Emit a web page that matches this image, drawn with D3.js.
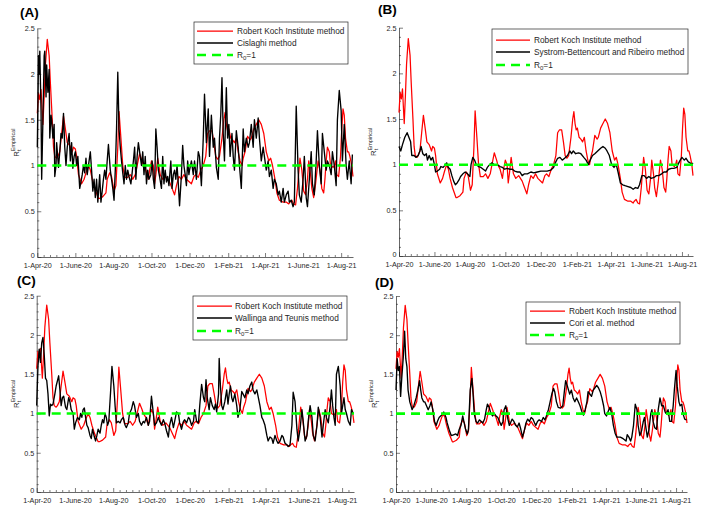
<!DOCTYPE html>
<html><head><meta charset="utf-8">
<script src="https://cdn.jsdelivr.net/npm/d3@7"></script>
<style>body{margin:0;background:#fff}svg{display:block;font-family:Arial,"Liberation Sans",sans-serif}</style>
</head><body>
<svg id="chart" width="707" height="514"></svg>
<script>
// ---------- DATA (day offset from 1-Apr-2020, value) ----------
const tickDays = [0,61,122,183,244,306,365,426,487];
const tickLabels = ["1-Apr-20","1-June-20","1-Aug-20","1-Oct-20","1-Dec-20","1-Feb-21","1-Apr-21","1-June-21","1-Aug-21"];
const yTicks = [0,0.5,1,1.5,2,2.5];
const yTickLabels = ["0","0.5","1","1.5","2","2.5"];
const r0Value = 1;

const rki = [[0,1.57],[2,1.79],[4,1.72],[6,1.83],[7,1.7],[9,1.45],[11,1.75],[13,2.1],[16,2.38],[19,2.2],[21,1.9],[24,1.5],[26,1.2],[28,1.1],[31,1.08],[33,1.1],[36,1.15],[39,1.35],[42,1.54],[45,1.4],[48,1.25],[52,1.22],[56,1.15],[58,1.2],[61,1.18],[63,1.1],[66,0.9],[71,0.8],[75,0.85],[78,0.92],[82,1.0],[85,0.95],[88,0.85],[92,0.75],[98,0.64],[100,0.64],[105,0.66],[110,0.7],[112,0.85],[116,0.92],[119,0.88],[123,0.72],[126,0.78],[129,1.2],[131,1.59],[134,1.3],[137,1.0],[140,0.87],[145,0.87],[149,0.9],[153,0.85],[157,0.9],[160,1.0],[164,1.13],[168,1.05],[170,1.0],[174,0.95],[178,0.85],[180,0.95],[183,1.05],[186,1.0],[188,0.8],[190,0.9],[193,1.08],[197,0.9],[201,0.85],[206,0.88],[212,0.82],[216,0.75],[220,0.68],[223,0.78],[227,0.88],[231,0.85],[235,0.9],[239,0.85],[247,0.8],[251,0.88],[254,0.9],[258,0.87],[262,0.95],[266,1.0],[270,1.1],[273,1.35],[276,1.38],[280,1.38],[283,1.25],[286,1.1],[289,1.07],[292,1.1],[296,1.3],[299,1.5],[301,1.58],[303,1.45],[305,1.38],[307,1.4],[310,1.3],[313,1.28],[316,1.25],[319,1.3],[322,1.15],[325,1.05],[328,1.0],[330,1.08],[333,1.15],[337,1.32],[341,1.28],[343,1.3],[347,1.4],[351,1.45],[355,1.5],[359,1.45],[363,1.35],[367,1.15],[371,1.05],[374,1.08],[377,1.0],[381,0.85],[384,0.7],[388,0.62],[394,0.6],[399,0.6],[403,0.58],[405,0.6],[408,0.62],[411,0.58],[414,0.57],[417,0.75],[421,1.08],[424,0.95],[427,0.72],[430,0.68],[433,0.85],[435,1.05],[438,0.9],[440,0.75],[443,0.65],[446,0.8],[450,1.05],[453,0.95],[456,0.75],[459,0.7],[461,0.85],[463,1.05],[465,1.2],[468,1.15],[470,1.0],[474,0.98],[476,1.0],[478,1.05],[480,0.9],[483,0.88],[486,1.1],[488,1.4],[490,1.62],[492,1.55],[494,1.3],[497,1.15],[499,1.15],[501,1.1],[504,1.0],[506,0.88]];

const cislaghi = [[0,1.2],[2,2.2],[3,2.0],[4,2.25],[6,1.6],[7,0.85],[9,1.5],[11,2.2],[12,2.25],[14,1.75],[15,2.1],[17,1.8],[19,2.05],[20,1.3],[22,1.55],[23,1.5],[25,1.3],[27,1.45],[28,0.88],[30,1.0],[31,1.25],[34,0.98],[36,1.15],[38,1.35],[40,1.3],[42,1.57],[44,1.2],[46,1.0],[48,1.2],[51,1.35],[53,1.05],[55,1.25],[57,0.97],[59,1.1],[61,1.15],[63,1.0],[65,1.1],[68,0.75],[70,0.82],[72,0.9],[74,1.0],[76,0.92],[78,1.08],[80,0.9],[83,1.05],[85,1.15],[87,0.95],[89,0.72],[91,0.85],[93,0.65],[95,0.85],[97,0.6],[100,0.9],[102,0.6],[104,0.72],[106,0.85],[108,0.95],[110,0.85],[112,1.05],[114,1.23],[117,0.95],[119,0.85],[121,0.75],[123,0.62],[125,0.95],[127,1.4],[129,2.02],[131,1.4],[133,1.2],[135,1.05],[137,0.92],[139,0.8],[141,1.0],[143,0.85],[145,0.95],[147,0.88],[150,0.8],[152,0.92],[154,1.05],[156,1.2],[158,0.85],[160,1.1],[162,1.25],[165,1.1],[167,1.0],[169,1.15],[171,0.9],[173,1.1],[175,0.8],[177,0.95],[179,0.85],[182,0.9],[184,1.05],[186,0.85],[188,0.75],[190,1.4],[192,1.2],[194,0.95],[196,0.88],[199,0.75],[201,1.1],[203,0.8],[205,0.95],[207,0.82],[209,0.88],[211,0.78],[214,1.05],[216,0.75],[218,0.9],[220,0.95],[222,0.85],[224,1.0],[226,0.8],[228,0.56],[231,0.9],[233,1.22],[235,1.0],[237,0.9],[239,0.78],[241,1.05],[243,0.9],[244,0.95],[247,1.05],[250,0.9],[252,1.05],[255,0.85],[258,1.15],[260,1.1],[263,0.78],[266,1.3],[268,1.78],[271,1.25],[274,1.62],[276,1.1],[279,1.55],[282,1.2],[284,1.3],[287,0.98],[290,0.85],[292,1.3],[294,1.55],[296,1.96],[298,1.35],[300,1.05],[303,1.85],[305,1.3],[307,1.45],[309,1.1],[312,1.35],[314,1.1],[316,0.95],[319,1.38],[322,1.2],[324,1.0],[327,0.75],[330,1.4],[332,1.15],[335,1.3],[338,1.2],[340,1.25],[343,1.45],[346,1.2],[348,1.5],[351,1.3],[354,1.52],[356,1.3],[359,1.05],[362,1.2],[364,1.1],[367,0.95],[370,1.05],[372,0.88],[375,0.95],[378,0.75],[380,0.85],[383,0.8],[386,0.68],[388,0.72],[391,0.6],[394,0.75],[396,0.6],[399,0.68],[402,0.72],[404,0.6],[407,0.62],[410,0.55],[412,0.6],[415,1.65],[418,0.95],[420,0.68],[423,0.6],[426,0.85],[428,1.1],[431,0.65],[433,0.55],[436,0.85],[439,1.15],[441,0.8],[444,0.68],[447,1.05],[449,1.38],[452,1.0],[455,0.8],[457,1.35],[460,1.15],[463,0.95],[465,1.05],[468,1.0],[471,0.9],[473,1.15],[476,1.0],[479,0.78],[481,1.5],[484,1.82],[487,1.6],[489,1.05],[492,1.45],[495,1.0],[497,0.85],[500,1.05],[503,0.8],[505,1.12]];

const systromBettencourt = [[0,1.2],[3,1.15],[6,1.22],[10,1.3],[14,1.35],[17,1.3],[20,1.25],[22,1.1],[26,1.1],[29,1.08],[33,1.1],[36,1.15],[38,1.2],[41,1.12],[44,1.1],[47,1.12],[49,1.05],[52,1.1],[55,1.05],[58,1.08],[61,1.0],[63,0.92],[66,0.93],[70,0.95],[72,0.98],[76,0.97],[80,1.0],[82,1.02],[85,0.97],[88,0.95],[91,0.88],[94,0.82],[97,0.78],[100,0.8],[103,0.83],[106,0.87],[110,0.9],[114,0.92],[118,0.9],[122,0.87],[124,1.0],[127,1.08],[130,1.05],[133,1.0],[137,0.98],[141,0.97],[145,0.95],[149,0.93],[152,0.97],[156,1.0],[160,1.02],[164,1.0],[169,1.0],[174,0.98],[178,0.97],[182,0.95],[186,0.96],[191,0.95],[195,0.95],[199,0.93],[204,0.92],[208,0.92],[212,0.88],[216,0.9],[221,0.9],[227,0.92],[232,0.91],[238,0.92],[244,0.93],[250,0.93],[255,0.93],[261,0.94],[266,0.97],[269,1.02],[273,1.07],[277,1.08],[281,1.05],[285,1.07],[290,1.1],[294,1.15],[297,1.12],[300,1.15],[304,1.12],[309,1.13],[313,1.12],[318,1.08],[322,1.05],[326,1.0],[329,1.05],[333,1.1],[337,1.12],[342,1.15],[347,1.18],[351,1.2],[355,1.18],[358,1.15],[362,1.1],[366,1.0],[370,0.97],[374,1.0],[377,0.92],[381,0.8],[385,0.78],[389,0.77],[394,0.76],[399,0.75],[403,0.73],[407,0.75],[411,0.74],[414,0.78],[418,0.88],[422,0.88],[426,0.85],[430,0.87],[434,0.85],[439,0.86],[443,0.88],[447,0.88],[452,0.9],[456,0.92],[460,0.92],[464,0.95],[469,0.96],[473,0.96],[478,0.97],[480,1.0],[484,1.05],[487,1.08],[491,1.05],[494,1.07],[498,1.03],[501,1.02],[503,1.0],[506,1.02]];

const wallingaTeunis = [[0,1.1],[2,1.6],[4,1.82],[6,1.65],[8,1.9],[10,1.97],[12,1.75],[14,1.45],[16,1.42],[18,1.25],[20,0.97],[22,1.12],[24,1.1],[26,1.12],[29,1.25],[31,1.35],[35,1.48],[37,1.3],[39,1.1],[41,1.2],[43,1.22],[46,1.08],[48,1.05],[51,1.2],[53,1.15],[55,1.05],[58,1.0],[60,0.8],[62,0.88],[65,0.95],[68,0.92],[70,1.0],[72,0.95],[74,1.05],[76,1.07],[78,0.95],[80,0.85],[82,0.82],[85,0.72],[87,0.68],[89,0.8],[92,0.7],[94,0.65],[96,0.72],[98,0.8],[101,0.75],[103,0.85],[105,0.92],[107,0.88],[109,1.0],[111,0.95],[113,0.85],[115,0.9],[118,1.3],[120,1.6],[123,1.35],[125,1.1],[127,0.88],[130,0.9],[133,0.88],[135,0.92],[138,0.95],[141,0.85],[143,0.82],[146,0.88],[148,1.0],[151,1.05],[154,1.15],[156,1.1],[159,0.95],[162,1.0],[164,0.9],[167,0.85],[170,0.9],[172,0.88],[175,0.95],[178,0.85],[180,0.9],[183,1.22],[186,1.0],[188,0.85],[191,0.88],[194,0.95],[196,0.9],[199,0.85],[202,0.92],[204,0.88],[207,0.78],[210,0.7],[212,0.85],[215,0.95],[218,0.82],[220,0.9],[223,1.02],[226,1.0],[228,0.88],[231,0.8],[234,0.9],[236,0.92],[239,0.88],[242,0.95],[244,0.93],[247,0.85],[250,0.9],[252,1.05],[255,0.9],[258,0.88],[260,1.1],[263,1.37],[266,1.2],[268,1.15],[270,1.43],[272,1.2],[275,1.05],[277,1.2],[280,1.1],[283,1.05],[285,1.12],[287,1.02],[290,1.25],[291,1.7],[293,1.35],[295,1.1],[297,1.05],[300,1.15],[303,1.3],[305,1.12],[307,1.25],[309,1.35],[311,1.2],[313,1.15],[316,1.25],[319,1.1],[321,0.95],[324,1.05],[327,1.28],[329,1.25],[332,1.2],[335,1.3],[337,1.25],[340,1.35],[343,1.4],[345,1.3],[348,1.25],[351,1.3],[353,1.22],[356,1.1],[359,0.95],[361,0.92],[364,0.85],[367,0.72],[369,0.65],[372,0.7],[375,0.68],[377,0.62],[380,0.72],[383,0.65],[385,0.62],[388,0.65],[391,0.72],[393,0.7],[396,0.62],[399,0.6],[401,0.58],[404,0.6],[407,0.85],[409,1.27],[412,1.15],[415,0.8],[417,0.65],[420,0.8],[423,1.05],[425,0.9],[428,0.65],[431,0.72],[433,0.9],[436,1.1],[439,0.95],[441,0.72],[444,0.65],[447,0.85],[449,1.08],[452,0.95],[455,0.7],[457,0.85],[460,1.05],[462,0.95],[465,0.88],[468,1.1],[470,1.3],[472,1.1],[474,0.95],[476,0.85],[478,1.5],[481,1.6],[484,1.35],[486,1.0],[488,1.1],[490,1.2],[492,1.05],[494,1.0],[497,0.9],[500,0.85],[502,1.05],[505,1.0]];

const cori = [[0,1.3],[2,1.7],[4,1.55],[6,1.6],[8,1.22],[10,1.45],[13,1.75],[15,2.05],[17,1.7],[19,1.6],[21,1.3],[24,1.15],[28,1.05],[31,1.1],[35,1.2],[38,1.3],[41,1.42],[43,1.3],[45,1.2],[48,1.15],[50,1.15],[53,1.1],[56,1.05],[59,1.1],[61,1.15],[64,1.05],[67,0.9],[70,0.85],[72,0.9],[75,0.95],[79,0.98],[83,1.02],[87,0.95],[89,0.88],[93,0.78],[96,0.72],[100,0.73],[104,0.74],[107,0.72],[110,0.8],[113,0.85],[116,0.97],[118,0.9],[121,0.8],[124,0.74],[126,0.8],[129,1.3],[132,1.45],[134,1.25],[136,1.0],[139,0.9],[142,0.88],[145,0.92],[148,0.9],[151,0.88],[154,0.93],[157,1.05],[159,1.12],[162,1.08],[165,1.0],[168,0.97],[171,1.0],[174,0.97],[177,0.95],[180,0.9],[183,0.85],[186,0.9],[188,1.05],[191,1.1],[194,0.95],[197,0.85],[199,0.88],[202,0.93],[205,0.9],[208,0.85],[211,0.83],[214,0.88],[217,0.8],[220,0.7],[223,0.78],[226,0.88],[229,0.93],[232,0.9],[235,0.95],[238,0.93],[241,0.88],[243,0.85],[246,0.9],[249,0.92],[253,0.9],[256,0.95],[259,0.92],[262,0.98],[265,1.05],[268,1.15],[271,1.25],[274,1.32],[276,1.28],[279,1.15],[282,1.08],[286,1.07],[290,1.1],[293,1.3],[295,1.42],[298,1.35],[300,1.3],[302,1.25],[305,1.3],[308,1.2],[311,1.15],[314,1.2],[317,1.15],[320,1.1],[323,1.03],[326,0.98],[329,1.05],[332,1.15],[334,1.28],[337,1.25],[340,1.22],[343,1.3],[346,1.33],[349,1.36],[352,1.33],[355,1.28],[358,1.2],[361,1.1],[363,1.0],[366,0.97],[369,1.03],[372,1.08],[375,1.0],[378,0.85],[381,0.75],[384,0.7],[390,0.7],[395,0.68],[400,0.65],[402,0.73],[405,0.7],[408,0.65],[410,0.7],[413,0.85],[416,1.12],[419,1.05],[421,0.85],[424,0.72],[427,0.78],[430,0.9],[432,0.95],[435,0.8],[437,0.7],[440,0.8],[443,1.0],[445,1.05],[447,0.9],[450,0.82],[453,0.8],[456,1.05],[459,1.2],[462,1.1],[465,1.1],[468,1.02],[470,1.0],[473,1.05],[476,0.9],[479,0.9],[482,1.1],[484,1.3],[487,1.55],[489,1.35],[492,1.15],[494,1.1],[497,1.12],[499,1.0],[502,0.93],[505,0.92]];

const rkiName = "Robert Koch Institute method";
const panelTitles = ["(A)","(B)","(C)","(D)"];
const methodNames = ["Cislaghi method","Systrom-Bettencourt and Ribeiro method","Wallinga and Teunis method","Cori et al. method"];
const methodSeries = [cislaghi, systromBettencourt, wallingaTeunis, cori];
const xDomain = [0, 506];
const yDomain = [0, 2.5];

// ---------- LAYOUT ----------
const layout = [
  {x0:37.3, x1:353, yb:257, yt:28.3, tx:20, ty:17, ylx:18.5, lg:{x:194,y:22,w:154,h:42,rows:[31,43,55],s0:197,s1:233,t:237}},
  {x0:399, x1:693, yb:256, yt:27.7, tx:378, ty:13.5, ylx:375.5, lg:{x:492,y:29,w:196,h:45,rows:[40,52,65],s0:496,s1:530,t:534}},
  {x0:36.7, x1:354, yb:492, yt:295.7, tx:17, ty:284.5, ylx:18.5, lg:{x:193,y:296,w:154,h:44,rows:[306,318,331],s0:197,s1:232,t:235}},
  {x0:396, x1:687, yb:492, yt:296, tx:375, ty:286.5, ylx:376.5, lg:{x:526,y:302,w:154,h:42,rows:[311,323,335],s0:530,s1:565,t:569}}
];

const INK = "#262626";
const svg = d3.select("#chart");

// minor tick positions (subdivisions of the major date ticks, and 0.1 steps on y)
const xMinor = [];
for (let i = 0; i < tickDays.length - 1; i++) {
  const step = (tickDays[i+1] - tickDays[i]) / 6;
  for (let k = 1; k < 6; k++) xMinor.push(tickDays[i] + k * step);
}
xMinor.push(tickDays[tickDays.length-1] + (tickDays[1]-tickDays[0]) / 6);
const yMinor = d3.range(0, 26).map(i => i / 10).filter(v => Math.abs(v*2 - Math.round(v*2)) > 1e-6);

layout.forEach((L, pi) => {
  const g = svg.append("g");
  const x = d3.scaleLinear().domain(xDomain).range([L.x0, L.x1]);
  const y = d3.scaleLinear().domain(yDomain).range([L.yb, L.yt]);

  // axes
  g.append("g").attr("transform", `translate(0,${L.yb})`)
    .call(d3.axisBottom(x).tickValues(tickDays).tickFormat((d,i)=>tickLabels[i]).tickSize(-4).tickSizeOuter(0).tickPadding(6));
  g.append("g").attr("transform", `translate(0,${L.yb})`)
    .call(d3.axisBottom(x).tickValues(xMinor.filter(d=>d<=xDomain[1])).tickFormat("").tickSize(-2).tickSizeOuter(0))
    .select(".domain").remove();
  const yAx = g.append("g").attr("transform", `translate(${L.x0},0)`)
    .call(d3.axisLeft(y).tickValues(yTicks).tickFormat((d,i)=>yTickLabels[i]).tickSize(-4).tickSizeOuter(0).tickPadding(2.5));
  yAx.selectAll(".tick text").filter(d => d === 0).attr("dy", "0.1em");
  g.append("g").attr("transform", `translate(${L.x0},0)`)
    .call(d3.axisLeft(y).tickValues(yMinor).tickFormat("").tickSize(-2).tickSizeOuter(0))
    .select(".domain").remove();
  g.selectAll(".domain").attr("stroke", INK).attr("stroke-width", 0.7);
  g.selectAll(".tick line").attr("stroke", INK).attr("stroke-width", 0.6);
  g.selectAll(".tick text").attr("fill", INK).attr("font-size", 7.2).attr("font-family", "Arial, 'Liberation Sans', sans-serif");

  // lines
  const line = d3.line().x(d => x(d[0])).y(d => y(d[1]));
  g.append("path").datum(rki).attr("d", line).attr("fill","none").attr("stroke","#ff0000").attr("stroke-width",1.25).attr("stroke-linejoin","round");
  g.append("path").datum(methodSeries[pi]).attr("d", line).attr("fill","none").attr("stroke","#000").attr("stroke-width",1.35).attr("stroke-linejoin","round");
  g.append("line").attr("x1", x(xDomain[0])).attr("x2", x(xDomain[1])).attr("y1", y(r0Value)).attr("y2", y(r0Value))
    .attr("stroke","#00ff00").attr("stroke-width",2.6).attr("stroke-dasharray","9,6");

  // title
  g.append("text").attr("x", L.tx).attr("y", L.ty).text(panelTitles[pi])
    .attr("font-size", 13.5).attr("font-weight","bold").attr("fill","#000");

  // y label
  const yl = g.append("text").attr("transform", `translate(${L.ylx},${(L.yb+L.yt)/2}) rotate(-90)`)
    .attr("text-anchor","middle").attr("font-size",7.8).attr("fill",INK);
  yl.append("tspan").text("R");
  yl.append("tspan").attr("dy",2).attr("font-size",5.5).text("t");
  yl.append("tspan").attr("dx",-1.6).attr("dy",-6).attr("font-size",5.5).text("Empirical");

  // legend
  const lg = L.lg;
  const leg = g.append("g");
  leg.append("rect").attr("x",lg.x).attr("y",lg.y).attr("width",lg.w).attr("height",lg.h)
    .attr("fill","#fff").attr("stroke",INK).attr("stroke-width",0.7);
  const items = [
    {stroke:"#ff0000", w:1.25, dash:null, label:rkiName},
    {stroke:"#000", w:1.35, dash:null, label:methodNames[pi]},
    {stroke:"#00ff00", w:2.6, dash:"9,6", label:null}
  ];
  items.forEach((it, k) => {
    const yy = lg.rows[k];
    const ln = leg.append("line").attr("x1",lg.s0).attr("x2",lg.s1).attr("y1",yy).attr("y2",yy)
      .attr("stroke",it.stroke).attr("stroke-width",it.w);
    if (it.dash) ln.attr("stroke-dasharray", it.dash);
    const t = leg.append("text").attr("x",lg.t).attr("y",yy+3).attr("font-size",8.3).attr("fill",INK);
    if (it.label) t.text(it.label);
    else {
      t.append("tspan").text("R");
      t.append("tspan").attr("dy",2).attr("font-size",6).text("0");
      t.append("tspan").attr("dy",-2).text("=1");
    }
  });
});
</script>
</body></html>
